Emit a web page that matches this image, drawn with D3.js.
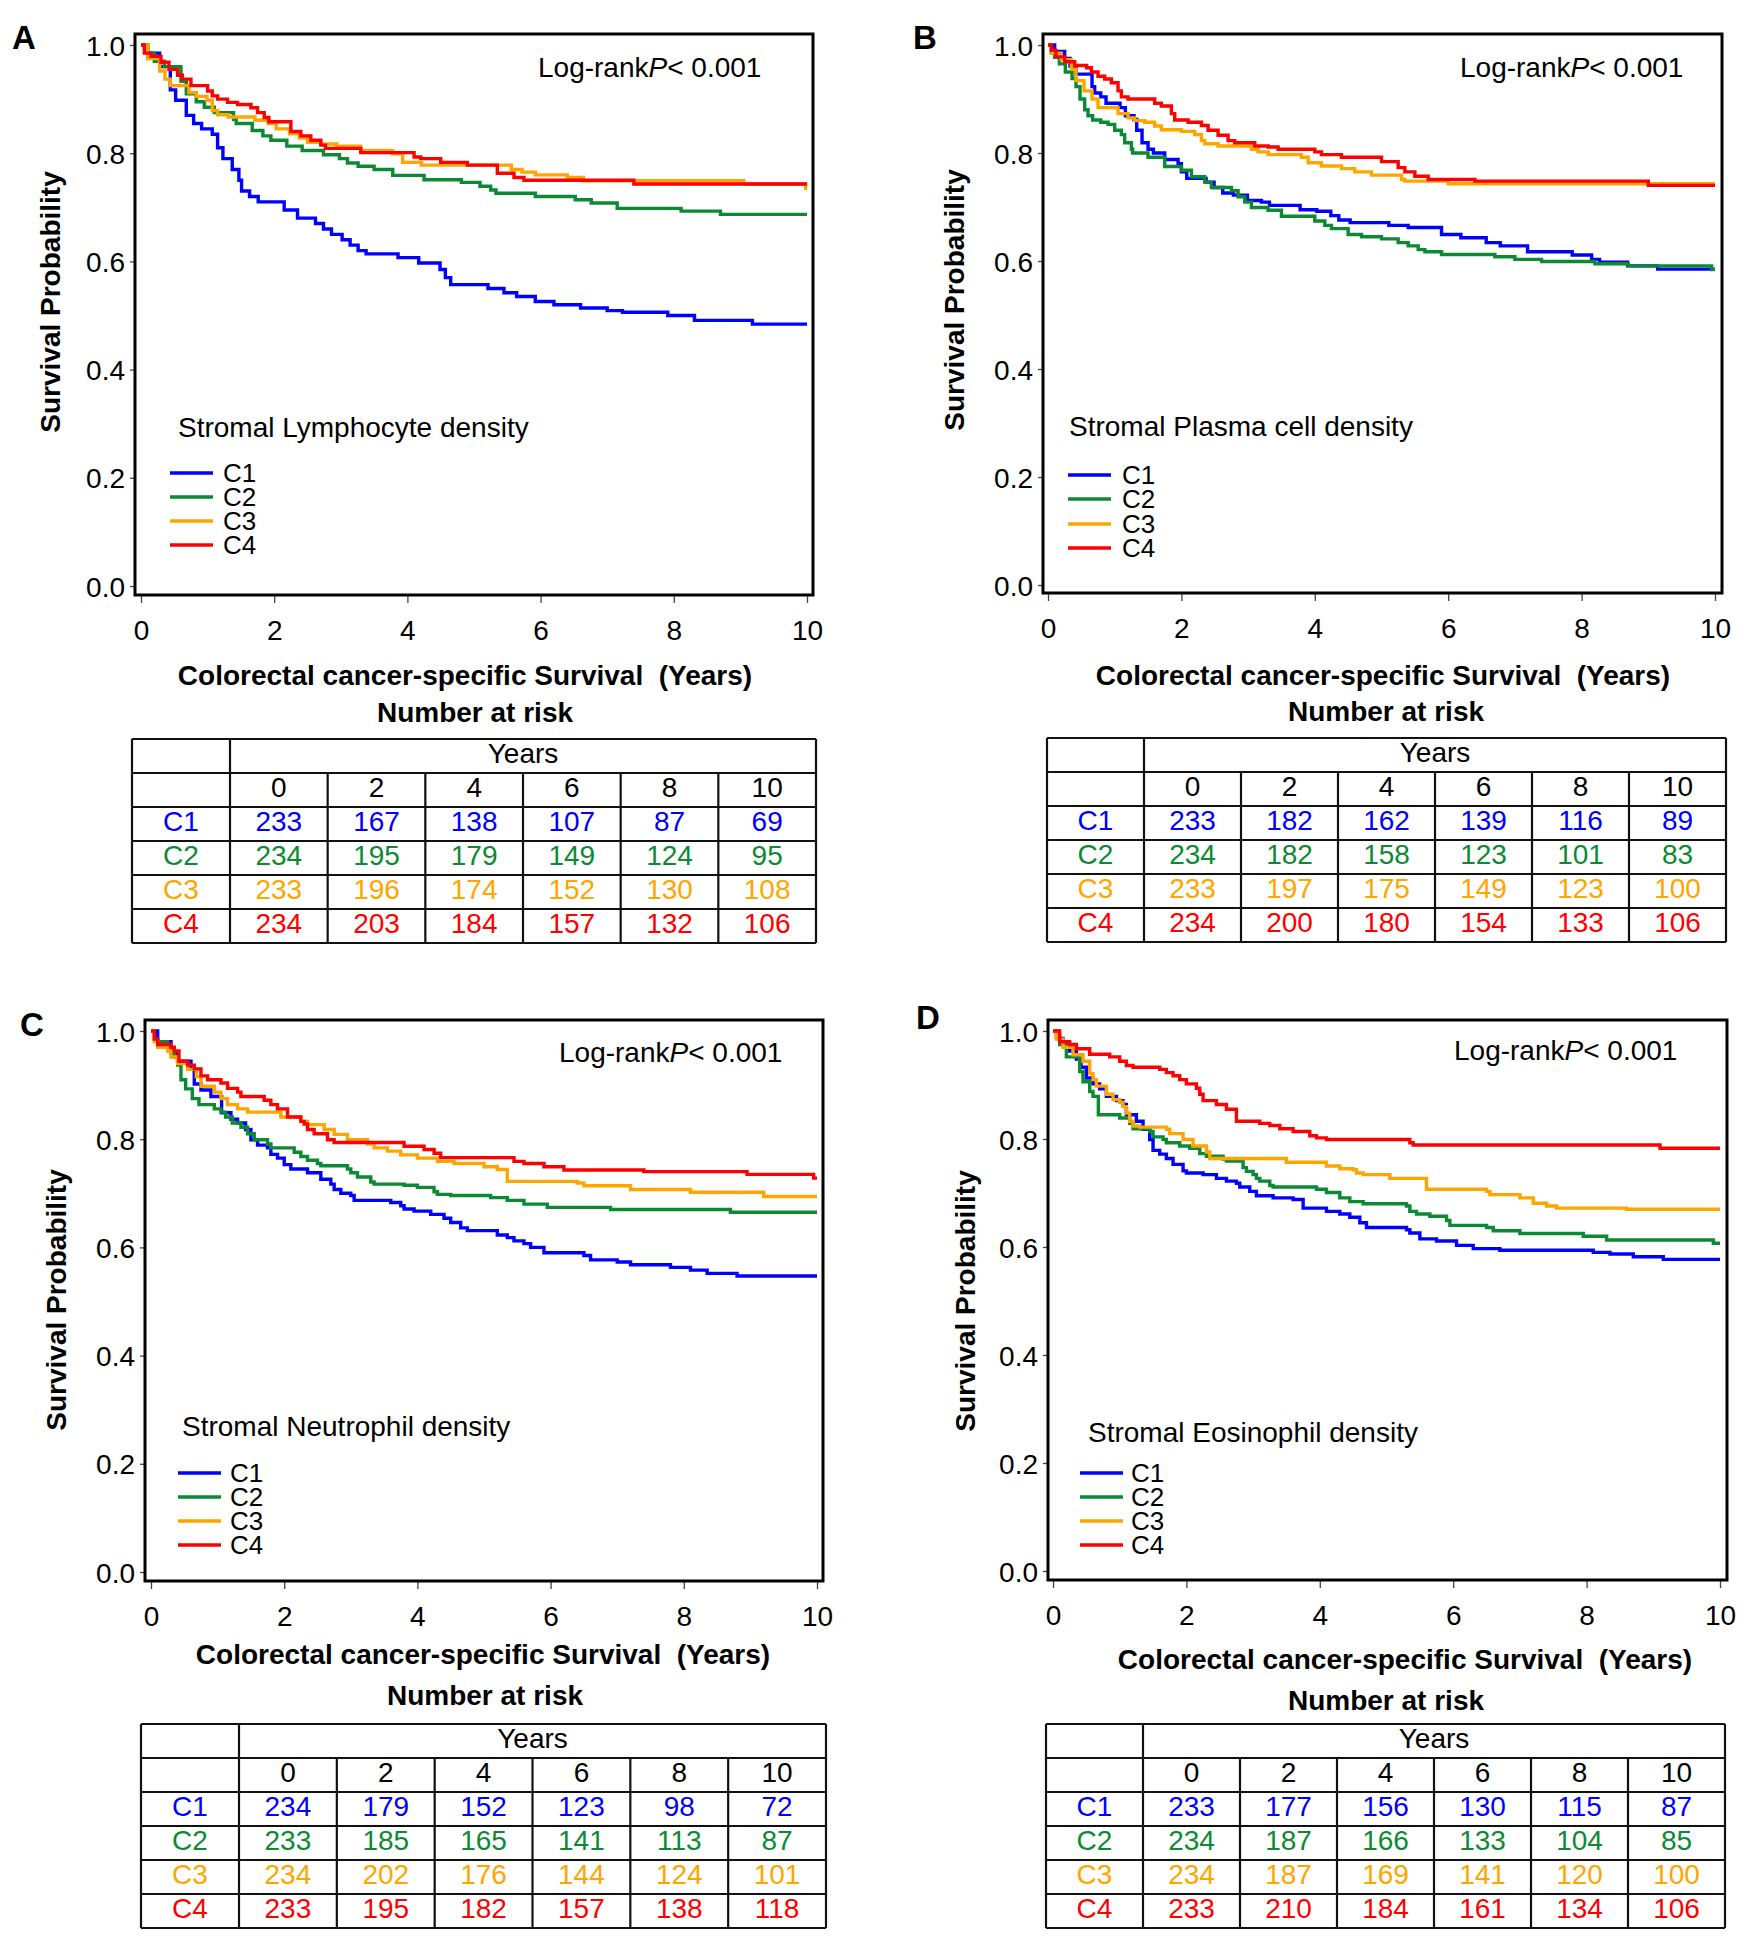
<!DOCTYPE html>
<html><head><meta charset="utf-8">
<script src="https://cdn.jsdelivr.net/npm/d3@7"></script>
<style>body{margin:0;background:#fff} svg{display:block} text{font-family:"Liberation Sans",Arial,sans-serif;white-space:pre}</style>
</head><body><svg id="chart" width="1747" height="1950"></svg>
<script>
// ---------- data ----------
const groups = ["C1","C2","C3","C4"];
const groupColors = ["#0000ff","#0b8a33","#ffa500","#ff0000"];
const xTickValues = [0,2,4,6,8,10];
const yTickValues = [0,0.2,0.4,0.6,0.8,1.0];
const riskYears = ["0","2","4","6","8","10"];
const panelLetters = ["A","B","C","D"];
const legendTitles = ["Stromal Lymphocyte density","Stromal Plasma cell density","Stromal Neutrophil density","Stromal Eosinophil density"];
const xAxisTitle = "Colorectal cancer-specific Survival  (Years)";
const yAxisTitle = "Survival Probability";
const riskTitle = "Number at risk";
const pValueText = "< 0.001";

// step points [time (years), survival after the step]
const lymphC1 = [[0.1,0.985],[0.28,0.96],[0.44,0.917],[0.52,0.898],[0.68,0.87],[0.79,0.855],[0.91,0.845],[1.07,0.835],[1.15,0.81],[1.23,0.79],[1.37,0.77],[1.47,0.75],[1.51,0.73],[1.63,0.72],[1.76,0.71],[2.15,0.695],[2.35,0.68],[2.62,0.67],[2.74,0.66],[2.86,0.65],[3.02,0.64],[3.14,0.63],[3.26,0.62],[3.38,0.614],[3.86,0.607],[4.17,0.597],[4.49,0.585],[4.57,0.57],[4.65,0.557],[5.21,0.55],[5.45,0.542],[5.64,0.535],[5.92,0.526],[6.2,0.52],[6.6,0.514],[7.0,0.509],[7.23,0.506],[7.91,0.5],[8.31,0.491],[9.18,0.484]];
const lymphC2 = [[0.1,0.985],[0.2,0.97],[0.35,0.96],[0.6,0.933],[0.68,0.91],[0.83,0.895],[0.95,0.885],[1.1,0.875],[1.39,0.862],[1.43,0.855],[1.67,0.842],[1.83,0.832],[1.95,0.824],[2.19,0.813],[2.42,0.805],[2.74,0.797],[2.98,0.79],[3.1,0.782],[3.26,0.776],[3.5,0.77],[3.78,0.759],[4.25,0.751],[4.81,0.746],[5.09,0.739],[5.25,0.732],[5.33,0.726],[5.92,0.72],[6.52,0.714],[6.76,0.708],[7.15,0.698],[8.11,0.693],[8.7,0.687]];
const lymphC3 = [[0.1,0.975],[0.28,0.952],[0.36,0.937],[0.44,0.925],[0.72,0.912],[0.83,0.905],[0.99,0.898],[1.07,0.879],[1.15,0.871],[1.31,0.867],[1.71,0.861],[1.91,0.855],[2.03,0.845],[2.23,0.836],[2.38,0.828],[2.5,0.82],[2.7,0.817],[2.94,0.813],[3.3,0.805],[3.78,0.799],[3.93,0.783],[4.21,0.778],[5.56,0.77],[5.72,0.765],[5.92,0.76],[6.4,0.755],[6.64,0.749],[9.05,0.743],[9.98,0.735]];
const lymphC4 = [[0.05,0.985],[0.15,0.979],[0.3,0.968],[0.42,0.955],[0.55,0.944],[0.62,0.937],[0.75,0.925],[1.0,0.915],[1.07,0.906],[1.15,0.9],[1.3,0.894],[1.45,0.89],[1.65,0.884],[1.75,0.875],[1.85,0.866],[1.92,0.858],[2.25,0.84],[2.4,0.832],[2.55,0.824],[2.7,0.815],[2.77,0.809],[3.3,0.801],[4.1,0.793],[4.2,0.79],[4.5,0.783],[4.9,0.778],[5.35,0.763],[5.6,0.755],[5.75,0.75],[7.4,0.743]];

const plasmaC1 = [[0.1,0.988],[0.25,0.975],[0.33,0.961],[0.42,0.946],[0.66,0.923],[0.7,0.911],[0.79,0.904],[0.87,0.892],[1.08,0.884],[1.16,0.869],[1.29,0.862],[1.33,0.842],[1.41,0.819],[1.5,0.807],[1.58,0.8],[1.75,0.788],[1.95,0.78],[2.0,0.765],[2.08,0.753],[2.37,0.746],[2.49,0.736],[2.62,0.726],[2.78,0.722],[2.99,0.712],[3.2,0.709],[3.32,0.703],[3.78,0.695],[4.03,0.692],[4.24,0.684],[4.36,0.676],[4.53,0.671],[5.11,0.666],[5.4,0.662],[5.9,0.649],[6.19,0.643],[6.57,0.634],[6.78,0.628],[7.19,0.617],[7.86,0.611],[8.15,0.603],[8.27,0.598],[8.69,0.591],[9.14,0.585]];
const plasmaC2 = [[0.05,0.985],[0.1,0.977],[0.17,0.965],[0.26,0.95],[0.36,0.938],[0.42,0.923],[0.48,0.9],[0.55,0.88],[0.6,0.869],[0.67,0.861],[0.79,0.857],[0.9,0.853],[1.0,0.842],[1.1,0.834],[1.15,0.819],[1.25,0.807],[1.27,0.8],[1.5,0.792],[1.75,0.775],[2.0,0.768],[2.15,0.756],[2.35,0.746],[2.45,0.736],[2.75,0.73],[2.85,0.719],[2.95,0.709],[3.05,0.699],[3.3,0.694],[3.5,0.683],[4.0,0.674],[4.15,0.666],[4.25,0.66],[4.5,0.649],[4.7,0.645],[5.0,0.641],[5.25,0.634],[5.4,0.628],[5.55,0.621],[5.65,0.617],[5.9,0.612],[6.7,0.608],[7.0,0.603],[7.4,0.599],[8.2,0.595],[8.7,0.591],[9.95,0.584]];
const plasmaC3 = [[0.05,0.985],[0.2,0.973],[0.35,0.955],[0.42,0.934],[0.54,0.915],[0.66,0.9],[0.75,0.884],[1.05,0.873],[1.2,0.865],[1.3,0.86],[1.45,0.857],[1.6,0.85],[1.7,0.843],[2.0,0.84],[2.2,0.834],[2.3,0.823],[2.35,0.817],[2.55,0.813],[3.05,0.807],[3.15,0.802],[3.3,0.797],[3.8,0.792],[3.9,0.782],[4.1,0.776],[4.4,0.771],[4.6,0.765],[4.85,0.759],[5.3,0.751],[5.35,0.748],[6.0,0.743]];
const plasmaC4 = [[0.05,0.99],[0.12,0.978],[0.25,0.969],[0.4,0.962],[0.58,0.958],[0.65,0.95],[0.75,0.942],[0.85,0.937],[0.95,0.93],[1.05,0.915],[1.1,0.904],[1.2,0.9],[1.6,0.892],[1.7,0.887],[1.85,0.873],[1.9,0.861],[2.1,0.857],[2.3,0.851],[2.4,0.842],[2.55,0.833],[2.7,0.823],[2.8,0.819],[3.1,0.813],[3.3,0.811],[3.45,0.807],[4.0,0.802],[4.1,0.797],[4.4,0.792],[5.0,0.784],[5.25,0.773],[5.35,0.765],[5.5,0.757],[5.7,0.751],[6.4,0.748],[9.0,0.74]];

const neutroC1 = [[0.1,0.98],[0.3,0.959],[0.4,0.944],[0.6,0.929],[0.65,0.902],[0.75,0.891],[0.9,0.879],[1.06,0.849],[1.2,0.837],[1.3,0.83],[1.42,0.818],[1.5,0.799],[1.6,0.789],[1.75,0.784],[1.8,0.772],[1.9,0.765],[2.0,0.753],[2.1,0.745],[2.35,0.738],[2.55,0.726],[2.7,0.717],[2.75,0.707],[2.85,0.7],[3.0,0.696],[3.05,0.687],[3.6,0.683],[3.75,0.677],[3.8,0.671],[3.95,0.667],[4.2,0.661],[4.4,0.654],[4.5,0.646],[4.65,0.636],[4.75,0.631],[5.2,0.623],[5.35,0.618],[5.45,0.612],[5.6,0.607],[5.7,0.6],[5.9,0.59],[6.5,0.585],[6.6,0.577],[7.0,0.573],[7.2,0.568],[7.8,0.563],[8.1,0.558],[8.35,0.552],[8.8,0.547]];
const neutroC2 = [[0.05,0.985],[0.1,0.98],[0.25,0.965],[0.35,0.952],[0.4,0.937],[0.45,0.91],[0.52,0.893],[0.62,0.875],[0.72,0.864],[0.95,0.856],[1.05,0.85],[1.12,0.841],[1.22,0.83],[1.35,0.822],[1.45,0.81],[1.55,0.799],[1.75,0.791],[1.8,0.784],[2.15,0.776],[2.25,0.768],[2.35,0.761],[2.5,0.755],[2.55,0.751],[2.95,0.745],[3.0,0.738],[3.1,0.73],[3.3,0.721],[3.35,0.717],[3.8,0.715],[4.0,0.711],[4.25,0.703],[4.3,0.698],[4.5,0.696],[5.1,0.692],[5.35,0.687],[5.6,0.68],[5.95,0.674],[6.9,0.67],[8.7,0.665]];
const neutroC3 = [[0.05,0.98],[0.1,0.97],[0.25,0.963],[0.3,0.952],[0.4,0.94],[0.55,0.929],[0.68,0.916],[0.75,0.898],[0.95,0.887],[1.05,0.875],[1.15,0.864],[1.3,0.856],[1.45,0.85],[1.95,0.841],[2.25,0.833],[2.35,0.827],[2.6,0.818],[2.75,0.809],[2.95,0.799],[3.25,0.791],[3.35,0.784],[3.55,0.778],[3.75,0.771],[4.0,0.765],[4.3,0.759],[4.55,0.755],[5.0,0.749],[5.2,0.744],[5.35,0.722],[6.4,0.719],[6.5,0.714],[7.2,0.707],[8.1,0.702],[9.2,0.694]];
const neutroC4 = [[0.05,0.985],[0.1,0.975],[0.3,0.97],[0.35,0.963],[0.42,0.944],[0.55,0.937],[0.65,0.93],[0.75,0.917],[0.85,0.91],[1.05,0.904],[1.15,0.894],[1.3,0.887],[1.35,0.879],[1.7,0.872],[1.8,0.864],[1.9,0.856],[2.05,0.841],[2.25,0.833],[2.3,0.828],[2.35,0.818],[2.45,0.81],[2.65,0.799],[2.75,0.794],[3.8,0.787],[4.1,0.781],[4.25,0.774],[4.35,0.766],[5.45,0.759],[5.6,0.755],[5.9,0.749],[6.2,0.743],[7.4,0.74],[8.95,0.735],[9.95,0.728]];

const eosinC1 = [[0.08,0.986],[0.15,0.975],[0.25,0.963],[0.35,0.948],[0.42,0.933],[0.5,0.913],[0.6,0.902],[0.7,0.893],[0.8,0.879],[0.95,0.871],[1.05,0.864],[1.1,0.845],[1.25,0.833],[1.35,0.818],[1.45,0.799],[1.5,0.779],[1.6,0.772],[1.7,0.764],[1.8,0.753],[1.95,0.741],[2.0,0.737],[2.25,0.734],[2.45,0.727],[2.6,0.722],[2.75,0.718],[2.8,0.711],[2.95,0.703],[3.05,0.695],[3.3,0.691],[3.6,0.688],[3.75,0.672],[4.1,0.666],[4.3,0.661],[4.45,0.655],[4.6,0.645],[4.7,0.636],[5.3,0.632],[5.35,0.626],[5.5,0.615],[5.75,0.611],[6.05,0.603],[6.3,0.597],[6.7,0.594],[8.1,0.59],[8.35,0.587],[8.7,0.582],[9.15,0.577]];
const eosinC2 = [[0.05,0.99],[0.1,0.975],[0.2,0.952],[0.4,0.925],[0.45,0.906],[0.55,0.888],[0.6,0.879],[0.68,0.845],[1.0,0.839],[1.15,0.829],[1.2,0.819],[1.45,0.814],[1.5,0.804],[1.65,0.799],[1.7,0.793],[1.9,0.787],[2.05,0.783],[2.2,0.773],[2.3,0.768],[2.55,0.763],[2.6,0.759],[2.85,0.747],[2.9,0.74],[3.0,0.734],[3.05,0.727],[3.1,0.722],[3.25,0.714],[3.3,0.711],[3.95,0.707],[4.1,0.701],[4.3,0.691],[4.45,0.684],[4.65,0.68],[5.3,0.676],[5.35,0.666],[5.45,0.661],[5.65,0.657],[5.9,0.649],[5.95,0.64],[6.5,0.636],[6.6,0.63],[7.0,0.625],[7.95,0.62],[8.3,0.613],[9.9,0.607]];
const eosinC3 = [[0.05,0.985],[0.15,0.97],[0.3,0.956],[0.45,0.944],[0.55,0.921],[0.6,0.91],[0.65,0.898],[0.8,0.883],[0.9,0.873],[1.0,0.868],[1.05,0.86],[1.1,0.848],[1.15,0.833],[1.2,0.824],[1.3,0.822],[1.7,0.818],[1.75,0.81],[1.95,0.799],[2.1,0.787],[2.3,0.776],[2.35,0.764],[3.5,0.757],[4.1,0.75],[4.3,0.745],[4.5,0.743],[4.55,0.737],[4.65,0.734],[5.05,0.727],[5.6,0.707],[6.5,0.703],[6.55,0.697],[7.0,0.691],[7.2,0.681],[7.4,0.676],[7.55,0.672],[8.6,0.67]];
const eosinC4 = [[0.1,0.98],[0.25,0.975],[0.35,0.967],[0.55,0.957],[0.85,0.952],[1.0,0.944],[1.1,0.936],[1.2,0.933],[1.6,0.929],[1.7,0.923],[1.8,0.917],[1.9,0.91],[2.0,0.902],[2.15,0.894],[2.2,0.883],[2.25,0.871],[2.45,0.864],[2.6,0.855],[2.75,0.833],[3.1,0.829],[3.25,0.825],[3.4,0.819],[3.6,0.814],[3.85,0.806],[3.95,0.802],[4.1,0.799],[5.35,0.793],[5.4,0.789],[9.1,0.783]];

// number at risk (rows C1..C4, columns years 0..10)
const lymphRisk  = [[233,167,138,107,87,69],[234,195,179,149,124,95],[233,196,174,152,130,108],[234,203,184,157,132,106]];
const plasmaRisk = [[233,182,162,139,116,89],[234,182,158,123,101,83],[233,197,175,149,123,100],[234,200,180,154,133,106]];
const neutroRisk = [[234,179,152,123,98,72],[233,185,165,141,113,87],[234,202,176,144,124,101],[233,195,182,157,138,118]];
const eosinRisk  = [[233,177,156,130,115,87],[234,187,166,133,104,85],[234,187,169,141,120,100],[233,210,184,161,134,106]];

const panelCurves = [[lymphC1,lymphC2,lymphC3,lymphC4],[plasmaC1,plasmaC2,plasmaC3,plasmaC4],[neutroC1,neutroC2,neutroC3,neutroC4],[eosinC1,eosinC2,eosinC3,eosinC4]];
const panelRisk = [lymphRisk, plasmaRisk, neutroRisk, eosinRisk];

// ---------- layout ----------
const layouts = [
  {letter:[12,49], frame:[135,34,813,595], x0:141, x10:807, y1:45, y0:586, log:[538,77], ytitle:[60,302],
   legTitle:[178,437], legLine:[170,213], legLabelX:223, legRows:[473,497,521,545], xTitle:[465,685], nRisk:[475,722],
   table:{L:132, C:230, R:816, T:739, H:34}},
  {letter:[913,49], frame:[1043,34,1722,593], x0:1048, x10:1715, y1:45, y0:585, log:[1460,77], ytitle:[964,300],
   legTitle:[1069,436], legLine:[1068,1111], legLabelX:1122, legRows:[475,499,524,548], xTitle:[1383,685], nRisk:[1386,721],
   table:{L:1047, C:1144, R:1726, T:738, H:34}},
  {letter:[20,1036], frame:[145,1020,823,1581], x0:151, x10:817, y1:1031, y0:1572, log:[559,1062], ytitle:[66,1300],
   legTitle:[182,1436], legLine:[178,221], legLabelX:230, legRows:[1473,1497,1521,1545], xTitle:[483,1664], nRisk:[485,1705],
   table:{L:141, C:239, R:826, T:1724, H:34}},
  {letter:[916,1029], frame:[1048,1020,1727,1580], x0:1053, x10:1720, y1:1031, y0:1571, log:[1454,1060], ytitle:[975,1301],
   legTitle:[1088,1442], legLine:[1080,1123], legLabelX:1131, legRows:[1473,1497,1521,1545], xTitle:[1405,1669], nRisk:[1386,1710],
   table:{L:1046, C:1143, R:1725, T:1724, H:34}}
];

const FS = 28;
const svg = d3.select("#chart");

layouts.forEach((L, pi) => {
  const g = svg.append("g");
  const x = d3.scaleLinear().domain([0,10]).range([L.x0, L.x10]);
  const y = d3.scaleLinear().domain([0,1]).range([L.y0, L.y1]);
  const [fl, ft, fr, fb] = L.frame;

  // panel letter
  g.append("text").attr("x", L.letter[0]).attr("y", L.letter[1]).attr("font-size", 33).attr("font-weight","bold").text(panelLetters[pi]);

  // axes
  const gx = g.append("g").attr("transform", `translate(0,${fb})`)
    .call(d3.axisBottom(x).tickValues(xTickValues).tickSize(8).tickFormat(d3.format("d")));
  gx.select(".domain").remove();
  gx.selectAll("line").attr("stroke","#444").attr("stroke-width",1.3);
  gx.selectAll("text").attr("font-size",FS).attr("font-family",null).attr("dy",null).attr("y",45).attr("fill","#000");

  const gy = g.append("g").attr("transform", `translate(${fl},0)`)
    .call(d3.axisLeft(y).tickValues(yTickValues).tickSize(5).tickFormat(d3.format(".1f")));
  gy.select(".domain").remove();
  gy.selectAll("line").attr("stroke","#444").attr("stroke-width",1.3);
  gy.selectAll("text").attr("font-size",FS).attr("font-family",null).attr("x",-10).attr("dy","0.36em").attr("fill","#000");

  // curves
  const line = d3.line().x(d => x(d[0])).y(d => y(d[1])).curve(d3.curveStepAfter);
  panelCurves[pi].forEach((pts, ci) => {
    const data = [[0,1], ...pts, [10, pts[pts.length-1][1]]];
    g.append("path").datum(data).attr("d", line).attr("fill","none")
      .attr("stroke", groupColors[ci]).attr("stroke-width",3.4).attr("stroke-linejoin","miter");
  });

  // frame
  g.append("rect").attr("x", fl).attr("y", ft).attr("width", fr-fl).attr("height", fb-ft)
    .attr("fill","none").attr("stroke","#000").attr("stroke-width",3);

  // log-rank
  const lt = g.append("text").attr("x", L.log[0]).attr("y", L.log[1]).attr("font-size",FS);
  lt.append("tspan").text("Log-rank");
  lt.append("tspan").attr("font-style","italic").text("P");
  lt.append("tspan").text(pValueText);

  // y title
  g.append("text").attr("transform", `translate(${L.ytitle[0]},${L.ytitle[1]}) rotate(-90)`)
    .attr("text-anchor","middle").attr("font-size",FS).attr("font-weight","bold").text(yAxisTitle);

  // legend
  g.append("text").attr("x", L.legTitle[0]).attr("y", L.legTitle[1]).attr("font-size",FS).text(legendTitles[pi]);
  groups.forEach((gname, ci) => {
    const ry = L.legRows[ci];
    g.append("line").attr("x1", L.legLine[0]).attr("x2", L.legLine[1]).attr("y1", ry).attr("y2", ry)
      .attr("stroke", groupColors[ci]).attr("stroke-width",3.4);
    g.append("text").attr("x", L.legLabelX).attr("y", ry + 9).attr("font-size",26).text(gname);
  });

  // x title and number at risk
  g.append("text").attr("x", L.xTitle[0]).attr("y", L.xTitle[1]).attr("text-anchor","middle")
    .attr("font-size",FS).attr("font-weight","bold").text(xAxisTitle);
  g.append("text").attr("x", L.nRisk[0]).attr("y", L.nRisk[1]).attr("text-anchor","middle")
    .attr("font-size",FS).attr("font-weight","bold").text(riskTitle);

  // risk table
  const T = L.table;
  const colW = (T.R - T.C) / riskYears.length;
  const nRows = 2 + groups.length;
  const B = T.T + nRows * T.H;
  const tg = g.append("g").attr("stroke","#111").attr("stroke-width",2.2);
  for (let r = 0; r <= nRows; r++) {
    tg.append("line").attr("x1", T.L).attr("x2", T.R).attr("y1", T.T + r*T.H).attr("y2", T.T + r*T.H);
  }
  [T.L, T.C, T.R].forEach(xx => tg.append("line").attr("x1", xx).attr("x2", xx).attr("y1", T.T).attr("y2", B));
  for (let c = 1; c < riskYears.length; c++) {
    const xx = T.C + c*colW;
    tg.append("line").attr("x1", xx).attr("x2", xx).attr("y1", T.T + T.H).attr("y2", B);
  }
  const cy = r => T.T + r*T.H + T.H/2 + 7;
  g.append("text").attr("x", (T.C + T.R)/2).attr("y", cy(0)).attr("text-anchor","middle").attr("font-size",FS).text("Years");
  riskYears.forEach((yr, c) => {
    g.append("text").attr("x", T.C + (c+0.5)*colW).attr("y", cy(1)).attr("text-anchor","middle").attr("font-size",FS).text(yr);
  });
  panelRisk[pi].forEach((row, ri) => {
    g.append("text").attr("x", (T.L + T.C)/2).attr("y", cy(ri+2)).attr("text-anchor","middle")
      .attr("font-size",FS).attr("fill", groupColors[ri]).text(groups[ri]);
    row.forEach((v, c) => {
      g.append("text").attr("x", T.C + (c+0.5)*colW).attr("y", cy(ri+2)).attr("text-anchor","middle")
        .attr("font-size",FS).attr("fill", groupColors[ri]).text(v);
    });
  });
});
</script></body></html>
